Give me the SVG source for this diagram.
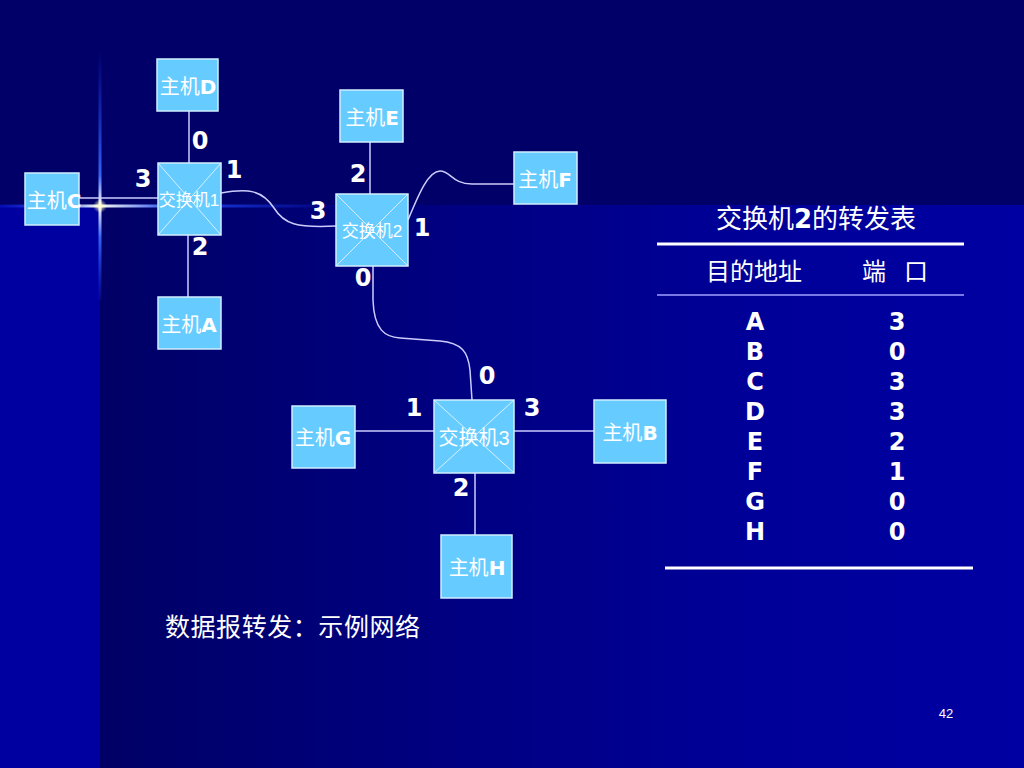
<svg xmlns="http://www.w3.org/2000/svg" width="1024" height="768" viewBox="0 0 1024 768">
<defs>
<linearGradient id="mainbg" x1="100" y1="0" x2="1024" y2="0" gradientUnits="userSpaceOnUse">
<stop offset="0" stop-color="#000066"/>
<stop offset="0.7" stop-color="#000098"/>
<stop offset="1" stop-color="#0000a2"/>
</linearGradient>
<linearGradient id="vflare" x1="0" y1="50" x2="0" y2="300" gradientUnits="userSpaceOnUse">
<stop offset="0" stop-color="#1a3cff" stop-opacity="0"/>
<stop offset="0.5" stop-color="#3a6cff" stop-opacity="0.9"/>
<stop offset="0.62" stop-color="#ffffff" stop-opacity="1"/>
<stop offset="0.75" stop-color="#3a6cff" stop-opacity="0.9"/>
<stop offset="1" stop-color="#1a3cff" stop-opacity="0.1"/>
</linearGradient>
<linearGradient id="hflare" x1="0" y1="0" x2="340" y2="0" gradientUnits="userSpaceOnUse">
<stop offset="0" stop-color="#1a3cff" stop-opacity="0.2"/>
<stop offset="0.2" stop-color="#5a8cff" stop-opacity="0.9"/>
<stop offset="0.29" stop-color="#ffffee" stop-opacity="1"/>
<stop offset="0.4" stop-color="#a0b8ff" stop-opacity="0.9"/>
<stop offset="0.5" stop-color="#2050ff" stop-opacity="0.9"/>
<stop offset="1" stop-color="#1a3cff" stop-opacity="0"/>
</linearGradient>
<radialGradient id="star" cx="100" cy="206" r="7" gradientUnits="userSpaceOnUse">
<stop offset="0" stop-color="#ffffcc"/>
<stop offset="1" stop-color="#ffffcc" stop-opacity="0"/>
</radialGradient>
</defs>
<style>
.box{fill:#66ccff;stroke:#d0eeff;stroke-width:1.5}
.x{stroke:#d8f0ff;stroke-width:1}
.link{fill:none;stroke:#ccccff;stroke-width:1.5}
.lbl{font-family:"Liberation Sans","Noto Sans CJK SC",sans-serif;fill:#ffffff;text-anchor:middle}
.b{font-family:"DejaVu Sans",sans-serif;font-weight:bold}
.port{font-family:"DejaVu Sans",sans-serif;font-weight:bold;font-size:24px;fill:#ffffff;text-anchor:middle}
.tbl{font-family:"Liberation Sans","Noto Sans CJK SC",sans-serif;fill:#ffffff;text-anchor:middle}
</style>
<rect x="0" y="0" width="1024" height="768" fill="url(#mainbg)"/>
<rect x="0" y="205" width="100" height="563" fill="#0000a0"/>
<rect x="0" y="0" width="1024" height="205" fill="#000068"/>
<rect x="98.5" y="50" width="3" height="250" fill="url(#vflare)"/>
<rect x="0" y="204.5" width="340" height="3" fill="url(#hflare)"/>
<circle cx="100" cy="206" r="7" fill="url(#star)"/>
<g id="connectors">
<line class="link" x1="189" y1="111" x2="189" y2="163"/>
<line class="link" x1="188" y1="235" x2="188" y2="297"/>
<line class="link" x1="79" y1="198" x2="158" y2="198"/>
<path class="link" d="M221,193 C248,188 262,190 274,208 C284,224 296,228 336,226"/>
<line class="link" x1="370" y1="142" x2="370" y2="194"/>
<path class="link" d="M408,220 C418,196 428,171 440,171 C451,171 452,184 472,184 L514,184"/>
<path class="link" d="M373,262 L373,300 C374,330 385,337 400,338 L440,341 C462,343 468,352 470,370 L472,400"/>
<line class="link" x1="355" y1="431" x2="434" y2="431"/>
<line class="link" x1="514" y1="431" x2="594" y2="431"/>
<line class="link" x1="475" y1="473" x2="475" y2="535"/>
</g>
<g id="hostD"><rect class="box" x="157" y="59" width="61" height="52"/><text class="lbl" x="188" y="94" font-size="20">主机<tspan class="b">D</tspan></text></g>
<g id="hostC"><rect class="box" x="25" y="173" width="54" height="52"/><text class="lbl" x="54" y="208" font-size="20">主机<tspan class="b">C</tspan></text></g>
<g id="hostA"><rect class="box" x="158" y="297" width="63" height="52"/><text class="lbl" x="189" y="332" font-size="20">主机<tspan class="b">A</tspan></text></g>
<g id="hostE"><rect class="box" x="340" y="90" width="63" height="52"/><text class="lbl" x="372" y="125" font-size="20">主机<tspan class="b">E</tspan></text></g>
<g id="hostF"><rect class="box" x="514" y="152" width="63" height="52"/><text class="lbl" x="545" y="187" font-size="20">主机<tspan class="b">F</tspan></text></g>
<g id="hostG"><rect class="box" x="292" y="406" width="63" height="62"/><text class="lbl" x="323" y="445" font-size="20">主机<tspan class="b">G</tspan></text></g>
<g id="hostB"><rect class="box" x="594" y="400" width="72" height="63"/><text class="lbl" x="630" y="440" font-size="20">主机<tspan class="b">B</tspan></text></g>
<g id="hostH"><rect class="box" x="441" y="535" width="71" height="63"/><text class="lbl" x="477" y="575" font-size="20">主机<tspan class="b">H</tspan></text></g>
<g id="switch1"><rect class="box" x="158" y="163" width="63" height="72"/><line class="x" x1="158" y1="163" x2="221" y2="235"/><line class="x" x1="221" y1="163" x2="158" y2="235"/><text class="lbl" x="189" y="206" font-size="17">交换机1</text>
<text class="port" x="200" y="149">0</text><text class="port" x="143" y="187">3</text><text class="port" x="234" y="178">1</text><text class="port" x="200" y="255">2</text></g>
<g id="switch2"><rect class="box" x="336" y="194" width="72" height="72"/><line class="x" x1="336" y1="194" x2="408" y2="266"/><line class="x" x1="408" y1="194" x2="336" y2="266"/><text class="lbl" x="372" y="237" font-size="17">交换机2</text>
<text class="port" x="358" y="182">2</text><text class="port" x="318" y="219">3</text><text class="port" x="422" y="236">1</text><text class="port" x="363" y="286">0</text></g>
<g id="switch3"><rect class="box" x="434" y="400" width="80" height="73"/><line class="x" x1="434" y1="400" x2="514" y2="473"/><line class="x" x1="514" y1="400" x2="434" y2="473"/><text class="lbl" x="474" y="445" font-size="20">交换机3</text>
<text class="port" x="487" y="384">0</text><text class="port" x="414" y="416">1</text><text class="port" x="532" y="416">3</text><text class="port" x="461" y="496">2</text></g>
<g id="table">
<text class="tbl" x="816" y="228" font-size="26">交换机<tspan class="b">2</tspan>的转发表</text>
<line x1="657" y1="244" x2="964" y2="244" stroke="#ffffff" stroke-width="3"/>
<text class="tbl" x="754" y="280" font-size="24">目的地址</text>
<text class="tbl" x="895" y="280" font-size="24"><tspan x="874">端</tspan><tspan x="916">口</tspan></text>
<line x1="657" y1="295" x2="964" y2="295" stroke="#a0a0ff" stroke-width="1.5"/>
<text class="port" x="755" y="330">A</text>
<text class="port" x="755" y="360">B</text>
<text class="port" x="755" y="390">C</text>
<text class="port" x="755" y="420">D</text>
<text class="port" x="755" y="450">E</text>
<text class="port" x="755" y="480">F</text>
<text class="port" x="755" y="510">G</text>
<text class="port" x="755" y="540">H</text>
<text class="port" x="897" y="330">3</text>
<text class="port" x="897" y="360">0</text>
<text class="port" x="897" y="390">3</text>
<text class="port" x="897" y="420">3</text>
<text class="port" x="897" y="450">2</text>
<text class="port" x="897" y="480">1</text>
<text class="port" x="897" y="510">0</text>
<text class="port" x="897" y="540">0</text>
<line x1="665" y1="568" x2="973" y2="568" stroke="#ffffff" stroke-width="3"/>
</g>
<text x="165" y="636" font-size="25" textLength="255" lengthAdjust="spacing" font-family="'Noto Sans CJK SC',sans-serif" fill="#ffffff">数据报转发：示例网络</text>
<text x="946" y="718" font-size="13" text-anchor="middle" font-family="'Liberation Sans',sans-serif" fill="#ffffff">42</text>
</svg>
